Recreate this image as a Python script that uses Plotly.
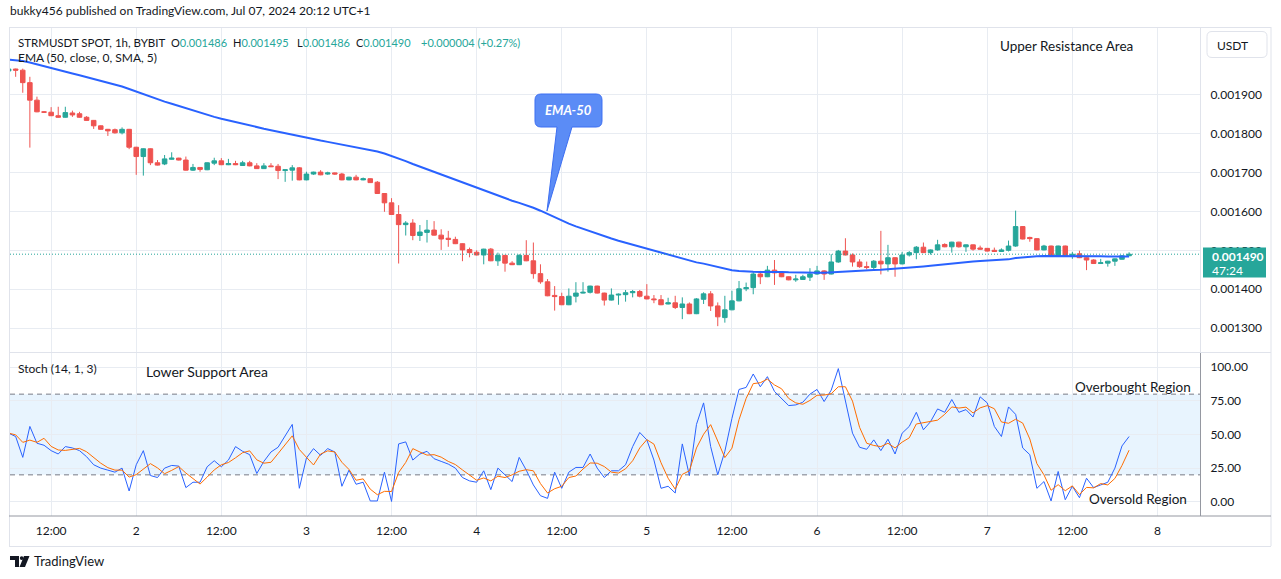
import plotly.graph_objects as go
import pandas as pd

W, H = 1281, 579
FONT = "Lato, 'Noto Sans', sans-serif"
UP = "#26a69a"
DOWN = "#ef5350"
TXT = "#131722"
GRID = "#e8ecf2"

# ---------------- data ----------------
bar_times = pd.date_range("2024-07-01 06:00", periods=159, freq="h")

open_ = [
    0.001961, 0.001966, 0.001963, 0.001931, 0.001886, 0.001856, 0.001855, 0.001846, 0.001842, 0.001853,
    0.001851, 0.001842, 0.001834, 0.001820, 0.001811, 0.001810, 0.001802, 0.001811, 0.001765, 0.001741,
    0.001761, 0.001725, 0.001722, 0.001734, 0.001737, 0.001732, 0.001706, 0.001713, 0.001707, 0.001724,
    0.001730, 0.001720, 0.001723, 0.001718, 0.001725, 0.001717, 0.001710, 0.001717, 0.001716, 0.001705,
    0.001706, 0.001712, 0.001681, 0.001696, 0.001701, 0.001696, 0.001699, 0.001696, 0.001681, 0.001688,
    0.001681, 0.001684, 0.001675, 0.001646, 0.001622, 0.001592, 0.001566, 0.001570, 0.001538, 0.001546,
    0.001552, 0.001539, 0.001531, 0.001528, 0.001517, 0.001502, 0.001495, 0.001488, 0.001503, 0.001473,
    0.001487, 0.001467, 0.001463, 0.001487, 0.001473, 0.001440, 0.001419, 0.001384, 0.001381, 0.001360,
    0.001382, 0.001390, 0.001392, 0.001408, 0.001390, 0.001372, 0.001385, 0.001386, 0.001391, 0.001394,
    0.001382, 0.001375, 0.001373, 0.001362, 0.001365, 0.001353, 0.001362, 0.001337, 0.001374, 0.001388,
    0.001357, 0.001327, 0.001347, 0.001370, 0.001401, 0.001404, 0.001439, 0.001432, 0.001449, 0.001442,
    0.001432, 0.001424, 0.001425, 0.001431, 0.001439, 0.001447, 0.001439, 0.001470, 0.001498, 0.001488,
    0.001470, 0.001458, 0.001456, 0.001472, 0.001465, 0.001481, 0.001465, 0.001488, 0.001494, 0.001508,
    0.001494, 0.001501, 0.001515, 0.001509, 0.001521, 0.001509, 0.001514, 0.001506, 0.001505, 0.001500,
    0.001497, 0.001500, 0.001511, 0.001561, 0.001533, 0.001530, 0.001501, 0.001511, 0.001484, 0.001511,
    0.001484, 0.001491, 0.001481, 0.001475, 0.001466, 0.001467, 0.001472, 0.001477, 0.001486,
]
high_ = [
    0.001969, 0.001967, 0.001967, 0.001946, 0.001895, 0.001858, 0.001868, 0.001869, 0.001869, 0.001859,
    0.001856, 0.001845, 0.001835, 0.001821, 0.001812, 0.001813, 0.001816, 0.001812, 0.001766, 0.001762,
    0.001762, 0.001732, 0.001745, 0.001752, 0.001738, 0.001741, 0.001722, 0.001714, 0.001726, 0.001738,
    0.001737, 0.001735, 0.001730, 0.001730, 0.001730, 0.001724, 0.001724, 0.001724, 0.001722, 0.001707,
    0.001719, 0.001714, 0.001702, 0.001702, 0.001706, 0.001702, 0.001700, 0.001699, 0.001689, 0.001694,
    0.001687, 0.001685, 0.001678, 0.001647, 0.001634, 0.001616, 0.001575, 0.001580, 0.001565, 0.001578,
    0.001575, 0.001554, 0.001550, 0.001535, 0.001518, 0.001507, 0.001500, 0.001504, 0.001506, 0.001494,
    0.001488, 0.001472, 0.001490, 0.001526, 0.001520, 0.001464, 0.001426, 0.001408, 0.001391, 0.001402,
    0.001418, 0.001418, 0.001409, 0.001409, 0.001391, 0.001402, 0.001389, 0.001398, 0.001398, 0.001398,
    0.001413, 0.001385, 0.001385, 0.001378, 0.001383, 0.001379, 0.001366, 0.001377, 0.001392, 0.001395,
    0.001366, 0.001383, 0.001396, 0.001421, 0.001417, 0.001445, 0.001447, 0.001460, 0.001475, 0.001446,
    0.001433, 0.001437, 0.001437, 0.001454, 0.001460, 0.001449, 0.001490, 0.001501, 0.001531, 0.001492,
    0.001477, 0.001471, 0.001475, 0.001550, 0.001514, 0.001482, 0.001496, 0.001498, 0.001511, 0.001520,
    0.001502, 0.001527, 0.001518, 0.001522, 0.001522, 0.001515, 0.001515, 0.001512, 0.001506, 0.001507,
    0.001505, 0.001525, 0.001602, 0.001562, 0.001535, 0.001531, 0.001514, 0.001512, 0.001512, 0.001512,
    0.001496, 0.001499, 0.001482, 0.001477, 0.001478, 0.001473, 0.001479, 0.001487, 0.001495,
]
low_ = [
    0.001958, 0.001946, 0.001905, 0.001764, 0.001855, 0.001853, 0.001845, 0.001841, 0.001841, 0.001843,
    0.001841, 0.001833, 0.001812, 0.001810, 0.001794, 0.001800, 0.001798, 0.001760, 0.001694, 0.001692,
    0.001719, 0.001718, 0.001719, 0.001733, 0.001731, 0.001705, 0.001704, 0.001702, 0.001706, 0.001719,
    0.001719, 0.001719, 0.001719, 0.001717, 0.001716, 0.001709, 0.001709, 0.001714, 0.001683, 0.001676,
    0.001679, 0.001680, 0.001680, 0.001694, 0.001693, 0.001694, 0.001694, 0.001680, 0.001680, 0.001680,
    0.001680, 0.001673, 0.001645, 0.001599, 0.001591, 0.001466, 0.001538, 0.001526, 0.001524, 0.001520,
    0.001538, 0.001501, 0.001509, 0.001516, 0.001472, 0.001482, 0.001487, 0.001464, 0.001472, 0.001460,
    0.001445, 0.001462, 0.001462, 0.001472, 0.001427, 0.001414, 0.001382, 0.001345, 0.001359, 0.001359,
    0.001366, 0.001389, 0.001389, 0.001389, 0.001358, 0.001371, 0.001360, 0.001368, 0.001379, 0.001379,
    0.001374, 0.001364, 0.001359, 0.001361, 0.001349, 0.001323, 0.001336, 0.001336, 0.001362, 0.001344,
    0.001305, 0.001314, 0.001346, 0.001369, 0.001395, 0.001387, 0.001413, 0.001431, 0.001411, 0.001431,
    0.001423, 0.001419, 0.001424, 0.001421, 0.001437, 0.001424, 0.001438, 0.001468, 0.001487, 0.001458,
    0.001455, 0.001451, 0.001449, 0.001438, 0.001445, 0.001432, 0.001464, 0.001484, 0.001477, 0.001493,
    0.001489, 0.001499, 0.001508, 0.001494, 0.001507, 0.001496, 0.001499, 0.001502, 0.001497, 0.001496,
    0.001496, 0.001497, 0.001509, 0.001528, 0.001522, 0.001500, 0.001500, 0.001483, 0.001483, 0.001483,
    0.001478, 0.001480, 0.001449, 0.001465, 0.001465, 0.001458, 0.001460, 0.001476, 0.001486,
]
close_ = [
    0.001966, 0.001963, 0.001931, 0.001886, 0.001856, 0.001855, 0.001846, 0.001842, 0.001854, 0.001848,
    0.001842, 0.001834, 0.001820, 0.001811, 0.001807, 0.001802, 0.001811, 0.001765, 0.001741, 0.001761,
    0.001725, 0.001719, 0.001735, 0.001737, 0.001732, 0.001706, 0.001713, 0.001708, 0.001725, 0.001730,
    0.001720, 0.001723, 0.001720, 0.001725, 0.001717, 0.001710, 0.001717, 0.001715, 0.001705, 0.001707,
    0.001712, 0.001681, 0.001696, 0.001701, 0.001694, 0.001699, 0.001696, 0.001681, 0.001688, 0.001681,
    0.001684, 0.001674, 0.001646, 0.001622, 0.001592, 0.001566, 0.001570, 0.001538, 0.001547, 0.001552,
    0.001539, 0.001529, 0.001528, 0.001517, 0.001501, 0.001494, 0.001488, 0.001503, 0.001473, 0.001487,
    0.001467, 0.001463, 0.001487, 0.001473, 0.001440, 0.001419, 0.001383, 0.001381, 0.001360, 0.001382,
    0.001390, 0.001392, 0.001408, 0.001390, 0.001372, 0.001385, 0.001387, 0.001391, 0.001394, 0.001382,
    0.001375, 0.001373, 0.001360, 0.001365, 0.001353, 0.001362, 0.001337, 0.001375, 0.001388, 0.001357,
    0.001329, 0.001347, 0.001370, 0.001401, 0.001404, 0.001439, 0.001432, 0.001449, 0.001442, 0.001432,
    0.001424, 0.001426, 0.001432, 0.001439, 0.001447, 0.001439, 0.001470, 0.001498, 0.001488, 0.001470,
    0.001458, 0.001456, 0.001472, 0.001465, 0.001481, 0.001465, 0.001488, 0.001494, 0.001508, 0.001494,
    0.001501, 0.001514, 0.001509, 0.001521, 0.001509, 0.001514, 0.001503, 0.001503, 0.001498, 0.001497,
    0.001501, 0.001511, 0.001561, 0.001529, 0.001530, 0.001501, 0.001511, 0.001484, 0.001511, 0.001484,
    0.001490, 0.001481, 0.001475, 0.001466, 0.001468, 0.001472, 0.001478, 0.001486, 0.001490,
]
stoch_k = [
    51, 48.5, 33, 56, 43.5, 42, 38, 35.5, 41, 40,
    38, 33.5, 27.5, 25, 23.5, 22, 25, 8, 27.5, 38,
    19.5, 18, 25, 27, 26.5, 10.5, 14.5, 14.5, 26, 30.5,
    26, 31, 41, 37.5, 35, 21, 30, 37, 40.5, 49,
    57.5, 10, 32.5, 39.5, 34.5, 39.5, 37, 11.5, 23.5, 13,
    14.5, 0.6, 0.6, 22, 0.2, 43, 44.5, 31, 35.5, 37.5,
    32, 30, 28, 25, 18, 15.5, 14.5, 23, 9, 25,
    20, 15, 33, 23.5, 12.5, 4.5, 2.5, 22, 10, 22,
    25.5, 25.5, 35.5, 25, 18, 23, 23, 27.5, 41, 51.5,
    46, 31, 10, 11.5, 6.5, 43, 19.5, 57.5, 73.5, 41,
    20, 37.5, 62, 83.5, 85, 95, 85.5, 93, 82, 77,
    71.5, 72, 74, 80, 83.5, 74.5, 83, 99, 74.5, 51,
    40.5, 39, 46, 38, 46.5, 35.5, 51, 56, 66.5, 53.5,
    59.5, 69, 66.5, 76, 66.5, 68.5, 63, 78, 73.5, 56,
    48.5, 70.5, 65, 40, 35, 10, 15, 0.6, 22.5, 1.5,
    11.5, 3, 17.5, 10.5, 12.5, 14.5, 25, 41.5, 48.5,
]

ema_length = 50
ema_start = 0.001990
stoch_smooth = 3
stoch_levels = [20, 50, 80]

price_tick_vals = [0.0013, 0.0014, 0.0015, 0.0016, 0.0017, 0.0018, 0.0019]
price_tick_text = ["0.001300", "0.001400", "0.001500", "0.001600", "0.001700", "0.001800", "0.001900"]
stoch_tick_vals = [0, 25, 50, 75, 100]
stoch_tick_text = ["0.00", "25.00", "50.00", "75.00", "100.00"]
time_tick_vals = ["2024-07-01 12:00", "2024-07-02 00:00", "2024-07-02 12:00", "2024-07-03 00:00",
                  "2024-07-03 12:00", "2024-07-04 00:00", "2024-07-04 12:00", "2024-07-05 00:00",
                  "2024-07-05 12:00", "2024-07-06 00:00", "2024-07-06 12:00", "2024-07-07 00:00",
                  "2024-07-07 12:00", "2024-07-08 00:00"]
time_tick_text = ["12:00", "2", "12:00", "3", "12:00", "4", "12:00", "5",
                  "12:00", "6", "12:00", "7", "12:00", "8"]
time_range = ["2024-07-01 06:12", "2024-07-08 06:00"]
price_range = [0.00123856, 0.00207147]
stoch_range = [-10.6, 110.6]
last_price = 0.001490
last_price_text = "0.001490"
countdown_text = "47:24"

# ---------------- indicators ----------------
alpha = 2 / (ema_length + 1)
ema = []
for i, c in enumerate(close_):
    ema.append(ema_start if i == 0 else ema[-1] + alpha * (c - ema[-1]))
stoch_d = pd.Series(stoch_k).rolling(stoch_smooth, min_periods=1).mean().tolist()


def px(x):
    return x / W


def py(y):
    return 1 - y / H


def P(x, y):
    return f"{px(x):.6f},{py(y):.6f}"


fig = go.Figure()
fig.add_trace(go.Candlestick(
    x=bar_times, open=open_, high=high_, low=low_, close=close_,
    increasing=dict(line=dict(color=UP, width=1), fillcolor=UP),
    decreasing=dict(line=dict(color=DOWN, width=1), fillcolor=DOWN),
    whiskerwidth=0, hoverinfo="skip", showlegend=False, xaxis="x", yaxis="y"))
fig.add_trace(go.Scatter(x=bar_times, y=ema, mode="lines", line=dict(color="#2962ff", width=2),
                         hoverinfo="skip", showlegend=False, xaxis="x", yaxis="y"))
fig.add_trace(go.Scatter(x=bar_times, y=stoch_k, mode="lines", line=dict(color="#2962ff", width=1),
                         hoverinfo="skip", showlegend=False, xaxis="x2", yaxis="y2"))
fig.add_trace(go.Scatter(x=bar_times, y=stoch_d, mode="lines", line=dict(color="#ff6d00", width=1),
                         hoverinfo="skip", showlegend=False, xaxis="x2", yaxis="y2"))

x_dom = [px(10), px(1200)]
tickfont = dict(family=FONT, size=12, color=TXT)

shapes = []


def hline(x0, x1, y, color, width=1, dash="solid"):
    shapes.append(dict(type="line", xref="paper", yref="paper", x0=px(x0), x1=px(x1), y0=py(y), y1=py(y),
                       line=dict(color=color, width=width, dash=dash), layer="above"))


def vline(x, y0, y1, color, width=1):
    shapes.append(dict(type="line", xref="paper", yref="paper", x0=px(x), x1=px(x), y0=py(y0), y1=py(y1),
                       line=dict(color=color, width=width), layer="above"))


# stochastic band + levels
shapes.append(dict(type="rect", xref="paper", yref="y2", x0=px(10), x1=px(1200), y0=stoch_levels[0],
                   y1=stoch_levels[2], fillcolor="rgba(33,150,243,0.1)", line=dict(width=0), layer="below"))
for lv in stoch_levels:
    shapes.append(dict(type="line", xref="paper", yref="y2", x0=px(10), x1=px(1200), y0=lv, y1=lv,
                       line=dict(color="#787b86", width=1, dash="5px,4px"), layer="below"))

# last price dotted line
shapes.append(dict(type="line", xref="paper", yref="y", x0=px(10), x1=px(1200), y0=last_price, y1=last_price,
                   line=dict(color=UP, width=1, dash="1px,2px"), layer="above"))

# frame and separators
hline(9, 1271, 27.5, "#e0e3eb")
hline(9, 1271, 546.5, "#e0e3eb")
vline(9.5, 27, 546, "#e0e3eb")
vline(1271, 27, 546, "#e0e3eb")
hline(9, 1271, 352.5, "#e0e3eb")
vline(1200.5, 27, 352, "#e0e3eb")
vline(1200.5, 353, 516, "#9598a1")
hline(9, 1271, 516, "#9598a1")

# last price label box
shapes.append(dict(type="rect", xref="paper", yref="paper", x0=px(1203), x1=px(1266), y0=py(277.5), y1=py(247.5),
                   fillcolor=UP, line=dict(width=0), layer="above"))


def rrect(x0, y0, x1, y1, r):
    return (f"M {P(x0 + r, y0)} L {P(x1 - r, y0)} Q {P(x1, y0)} {P(x1, y0 + r)} L {P(x1, y1 - r)} "
            f"Q {P(x1, y1)} {P(x1 - r, y1)} L {P(x0 + r, y1)} Q {P(x0, y1)} {P(x0, y1 - r)} "
            f"L {P(x0, y0 + r)} Q {P(x0, y0)} {P(x0 + r, y0)} Z")


# USDT box
shapes.append(dict(type="path", xref="paper", yref="paper", path=rrect(1207, 31.5, 1267, 57.5, 5),
                   line=dict(color="#e0e3eb", width=1), fillcolor="white", layer="above"))

# EMA-50 callout
bx0, by0, bx1, by1, r = 535, 94, 602, 127, 6
callout = (f"M {P(bx0 + r, by0)} L {P(bx1 - r, by0)} Q {P(bx1, by0)} {P(bx1, by0 + r)} "
           f"L {P(bx1, by1 - r)} Q {P(bx1, by1)} {P(bx1 - r, by1)} "
           f"L {P(572, by1)} L {P(547, 211)} L {P(557, by1)} "
           f"L {P(bx0 + r, by1)} Q {P(bx0, by1)} {P(bx0, by1 - r)} "
           f"L {P(bx0, by0 + r)} Q {P(bx0, by0)} {P(bx0 + r, by0)} Z")
shapes.append(dict(type="path", xref="paper", yref="paper", path=callout,
                   line=dict(color="#3d6ff2", width=1), fillcolor="#5b8cf6", layer="above"))

# TradingView logo
logo1 = f"M {P(10, 556)} L {P(19, 556)} L {P(19, 567)} L {P(15, 567)} L {P(15, 560)} L {P(10, 560)} Z"
logo2 = f"M {P(24, 556)} L {P(29.5, 556)} L {P(25, 567)} L {P(19.5, 567)} Z"
shapes.append(dict(type="path", xref="paper", yref="paper", path=logo1, fillcolor=TXT, line=dict(width=0)))
shapes.append(dict(type="path", xref="paper", yref="paper", path=logo2, fillcolor=TXT, line=dict(width=0)))
shapes.append(dict(type="circle", xref="paper", yref="paper", x0=px(19.8), x1=px(23.6), y0=py(560), y1=py(556.2),
                   fillcolor=TXT, line=dict(width=0)))

annotations = []


def text(x, y, s, size=12, color=TXT, anchor="left"):
    annotations.append(dict(x=px(x), y=py(y), xref="paper", yref="paper", text=s, showarrow=False,
                            xanchor=anchor, yanchor="middle", borderpad=0,
                            font=dict(family=FONT, size=size, color=color)))


def tv(s):
    return f"<span style='color:{UP}'>{s}</span>"


text(9, 11, "bukky456 published on TradingView.com, Jul 07, 2024 20:12 UTC+1", 12, TXT)
text(17, 42, "STRMUSDT SPOT, 1h, BYBIT", 11.5, TXT)
text(170, 42, "O" + tv("0.001486"), 11, TXT)
text(232, 42, "H" + tv("0.001495"), 11, TXT)
text(296, 42, "L" + tv("0.001486"), 11, TXT)
text(355, 42, "C" + tv("0.001490"), 11, TXT)
text(420, 42, tv("+0.000004 (+0.27%)"), 11, TXT)
text(17, 58, "EMA (50, close, 0, SMA, 5)", 12, TXT)
text(17, 368, "Stoch (14, 1, 3)", 12, TXT)
text(1066, 46, "Upper Resistance Area", 13.5, TXT, "center")
text(206.5, 371, "Lower Support Area", 14, TXT, "center")
text(1133, 387, "Overbought Region", 13.5, TXT, "center")
text(1138, 499, "Oversold Region", 13.5, TXT, "center")
text(568.5, 110.5, "<b><i>EMA-50</i></b>", 13, "white", "center")
text(1216, 45, "USDT", 12, TXT)
text(1211, 256, "<b>" + last_price_text + "</b>", 12, "white")
text(1211, 270, countdown_text, 12, "white")
text(33, 561, "TradingView", 13, TXT)

fig.update_layout(
    width=W, height=H, autosize=False,
    margin=dict(l=0, r=0, t=0, b=0),
    paper_bgcolor="white", plot_bgcolor="white",
    showlegend=False, boxgap=0.2, boxgroupgap=0.2,
    font=dict(family=FONT, color=TXT),
    xaxis=dict(domain=x_dom, anchor="y", type="date", range=time_range, tickvals=time_tick_vals,
               showticklabels=False, showgrid=True, gridcolor=GRID, zeroline=False, showline=False,
               rangeslider=dict(visible=False), fixedrange=True),
    xaxis2=dict(domain=x_dom, anchor="y2", type="date", range=time_range, matches="x",
                tickvals=time_tick_vals, ticktext=time_tick_text, showgrid=True, gridcolor=GRID,
                zeroline=False, showline=False, ticks="outside", ticklen=4, tickcolor="rgba(0,0,0,0)",
                tickfont=tickfont, rangeslider=dict(visible=False), fixedrange=True),
    yaxis=dict(domain=[py(352), py(28)], anchor="x", side="right", range=price_range,
               tickvals=price_tick_vals, ticktext=price_tick_text, showgrid=True, gridcolor=GRID,
               zeroline=False, showline=False, ticks="outside", ticklen=7, tickcolor="rgba(0,0,0,0)",
               tickfont=tickfont, fixedrange=True),
    yaxis2=dict(domain=[py(516), py(353)], anchor="x2", side="right", range=stoch_range,
                tickvals=stoch_tick_vals, ticktext=stoch_tick_text, showgrid=True, gridcolor=GRID,
                zeroline=False, showline=False, ticks="outside", ticklen=7, tickcolor="rgba(0,0,0,0)",
                tickfont=tickfont, fixedrange=True),
    shapes=shapes, annotations=annotations,
)

fig.write_html("out.html", config={"displayModeBar": False},
               post_script="document.body.style.margin='0px';document.body.style.overflow='hidden';")
